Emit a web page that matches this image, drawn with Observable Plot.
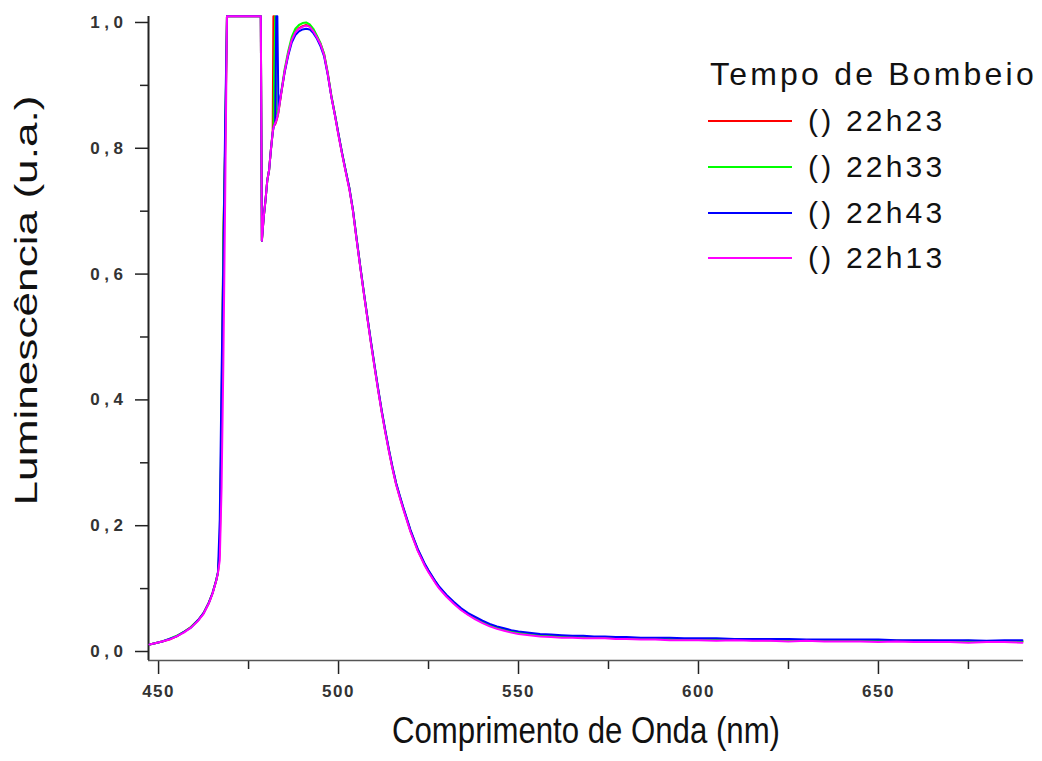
<!DOCTYPE html>
<html>
<head>
<meta charset="utf-8">
<script src="https://cdn.jsdelivr.net/npm/d3@7"></script>
<script src="https://cdn.jsdelivr.net/npm/@observablehq/plot@0.6"></script>
<style>
  body { margin: 0; background: #fff; }
  #wrap { position: relative; width: 1042px; height: 761px; font-family: "Liberation Sans", Arial, sans-serif; }
  #legend { position: absolute; left: 0; top: 0; }
  .lt { position: absolute; left: 710px; top: 56px; font-size: 32px; letter-spacing: 3.2px; color: #111; white-space: nowrap; }
  .row { position: absolute; left: 708px; height: 40px; white-space: nowrap; }
  .sw { position: absolute; left: 0; width: 84px; height: 2px; top: 19px; }
  .lab { position: absolute; left: 100px; top: 0; font-size: 30px; line-height: 40px; color: #111; letter-spacing: 3.2px; }
  .ytick text { letter-spacing: 4.5px; }
  .xtick text { letter-spacing: 1.5px; }
</style>
</head>
<body>
<div id="wrap"></div>
<script>
// ---- data ----
const seriesNames = ["() 22h23", "() 22h33", "() 22h43", "() 22h13"];
const seriesColors = ["#ff0000", "#00ff00", "#0000ff", "#ff00ff"];

const wavelength = [
  447.5, 449, 451, 453, 455, 457, 459, 461, 462.5, 464,
  465, 466, 466.5, 467, 467.5, 468, 468.5, 469, 470, 472,
  474, 476, 478, 478.4, 478.7, 479.2, 479.7, 480.2, 480.7, 481.2,
  481.7, 481.9, 482.1, 482.4, 482.7, 483.0, 483.3, 484, 485, 486,
  487, 488, 489, 490, 491, 492, 493, 494, 495, 496,
  497, 498, 499, 500, 501, 502, 503, 504, 505, 506,
  507, 508, 509, 510, 511, 512, 513, 514, 515, 516,
  517, 518, 519, 520, 521, 522, 523, 524, 525, 526,
  527, 528, 530, 532, 534, 536, 538, 540, 542, 544,
  546, 548, 550, 553, 556, 559, 562, 565, 568, 571,
  574, 577, 580, 584, 588, 592, 596, 600, 605, 610,
  615, 620, 625, 630, 635, 640, 645, 650, 655, 660,
  665, 670, 675, 680, 685, 690
];

const lum2223 = [
  0.011, 0.013, 0.016, 0.019, 0.024, 0.031, 0.039, 0.050, 0.061, 0.078,
  0.093, 0.113, 0.125, 0.160, 0.36, 0.66, 0.80, 1.01, 1.01, 1.01,
  1.01, 1.01, 1.01, 1.01, 0.653, 0.690, 0.717, 0.749, 0.765, 0.797,
  0.826, 1.01, 1.01, 0.838, 0.843, 0.849, 0.857, 0.884, 0.921, 0.950,
  0.973, 0.985, 0.991, 0.994, 0.996, 0.994, 0.987, 0.977, 0.966, 0.949,
  0.919, 0.883, 0.853, 0.821, 0.791, 0.763, 0.736, 0.701, 0.656, 0.613,
  0.571, 0.531, 0.491, 0.453, 0.416, 0.381, 0.349, 0.319, 0.291, 0.266,
  0.246, 0.227, 0.209, 0.191, 0.176, 0.161, 0.149, 0.137, 0.127, 0.118,
  0.109, 0.101, 0.088, 0.077, 0.067, 0.059, 0.053, 0.047, 0.042, 0.038,
  0.035, 0.032, 0.030, 0.028, 0.026, 0.025, 0.024, 0.023, 0.023, 0.022,
  0.022, 0.021, 0.021, 0.020, 0.020, 0.020, 0.019, 0.019, 0.019, 0.019,
  0.018, 0.018, 0.018, 0.018, 0.017, 0.017, 0.017, 0.017, 0.017, 0.016,
  0.016, 0.016, 0.016, 0.016, 0.016, 0.016
];

const lum2233 = [
  0.011, 0.013, 0.016, 0.020, 0.025, 0.031, 0.039, 0.050, 0.061, 0.078,
  0.093, 0.113, 0.126, 0.170, 0.38, 0.66, 0.81, 1.01, 1.01, 1.01,
  1.01, 1.01, 1.01, 1.01, 0.653, 0.690, 0.717, 0.749, 0.765, 0.797,
  0.825, 0.832, 0.920, 1.01, 0.860, 0.851, 0.859, 0.887, 0.925, 0.954,
  0.977, 0.990, 0.996, 0.999, 1.000, 0.997, 0.990, 0.979, 0.967, 0.950,
  0.920, 0.884, 0.854, 0.822, 0.792, 0.764, 0.737, 0.702, 0.657, 0.614,
  0.572, 0.532, 0.492, 0.454, 0.417, 0.382, 0.350, 0.320, 0.292, 0.267,
  0.247, 0.228, 0.210, 0.192, 0.177, 0.162, 0.150, 0.138, 0.128, 0.119,
  0.110, 0.102, 0.089, 0.078, 0.068, 0.060, 0.053, 0.047, 0.042, 0.038,
  0.035, 0.032, 0.030, 0.028, 0.026, 0.025, 0.024, 0.024, 0.023, 0.022,
  0.022, 0.022, 0.021, 0.021, 0.020, 0.020, 0.020, 0.019, 0.019, 0.019,
  0.019, 0.018, 0.018, 0.018, 0.018, 0.017, 0.018, 0.017, 0.017, 0.017,
  0.017, 0.016, 0.017, 0.016, 0.016, 0.016
];

const lum2243 = [
  0.011, 0.013, 0.016, 0.020, 0.024, 0.031, 0.038, 0.050, 0.061, 0.078,
  0.093, 0.113, 0.126, 0.21, 0.44, 0.62, 0.84, 1.01, 1.01, 1.01,
  1.01, 1.01, 1.01, 1.01, 0.653, 0.690, 0.717, 0.749, 0.765, 0.797,
  0.825, 0.832, 0.836, 0.840, 1.01, 1.01, 0.862, 0.886, 0.920, 0.947,
  0.968, 0.980, 0.986, 0.989, 0.990, 0.989, 0.983, 0.974, 0.962, 0.946,
  0.917, 0.882, 0.853, 0.822, 0.792, 0.764, 0.737, 0.702, 0.657, 0.614,
  0.572, 0.532, 0.493, 0.455, 0.418, 0.383, 0.351, 0.321, 0.293, 0.268,
  0.248, 0.229, 0.211, 0.193, 0.178, 0.163, 0.151, 0.139, 0.129, 0.120,
  0.111, 0.103, 0.090, 0.079, 0.069, 0.061, 0.055, 0.049, 0.044, 0.040,
  0.037, 0.034, 0.032, 0.030, 0.028, 0.027, 0.026, 0.025, 0.025, 0.024,
  0.024, 0.023, 0.023, 0.022, 0.022, 0.022, 0.021, 0.021, 0.021, 0.020,
  0.020, 0.020, 0.020, 0.019, 0.019, 0.019, 0.019, 0.019, 0.018, 0.018,
  0.018, 0.018, 0.018, 0.017, 0.018, 0.018
];

const lum2213 = [
  0.011, 0.013, 0.016, 0.019, 0.024, 0.030, 0.038, 0.049, 0.060, 0.077,
  0.092, 0.112, 0.125, 0.145, 0.26, 0.46, 0.72, 1.01, 1.01, 1.01,
  1.01, 1.01, 1.01, 1.01, 0.653, 0.690, 0.717, 0.749, 0.765, 0.797,
  0.825, 0.832, 0.836, 0.840, 0.844, 0.850, 0.858, 0.885, 0.922, 0.950,
  0.972, 0.984, 0.990, 0.993, 0.995, 0.993, 0.986, 0.976, 0.965, 0.948,
  0.918, 0.882, 0.852, 0.820, 0.790, 0.762, 0.735, 0.700, 0.655, 0.612,
  0.570, 0.530, 0.490, 0.452, 0.415, 0.380, 0.348, 0.318, 0.290, 0.265,
  0.245, 0.226, 0.208, 0.190, 0.175, 0.160, 0.148, 0.136, 0.126, 0.117,
  0.108, 0.100, 0.087, 0.076, 0.066, 0.058, 0.051, 0.045, 0.040, 0.036,
  0.033, 0.030, 0.028, 0.026, 0.024, 0.023, 0.022, 0.022, 0.021, 0.021,
  0.021, 0.020, 0.020, 0.019, 0.019, 0.018, 0.018, 0.018, 0.017, 0.018,
  0.017, 0.017, 0.016, 0.017, 0.016, 0.016, 0.016, 0.015, 0.016, 0.015,
  0.015, 0.015, 0.014, 0.015, 0.015, 0.014
];

const xMajorTicks = [450, 500, 550, 600, 650];
const xMinorTicks = [475, 525, 575, 625, 675];
const yMajorTicks = [0, 0.2, 0.4, 0.6, 0.8, 1.0];
const yMinorTicks = [0.1, 0.3, 0.5, 0.7, 0.9];
const xTitle = "Comprimento de Onda (nm)";
const yTitle = "Luminescência (u.a.)";
const legendTitle = "Tempo de Bombeio";

// ---- build ----
const seriesValues = [lum2223, lum2233, lum2243, lum2213];
const rows = [];
seriesValues.forEach((vals, s) => {
  vals.forEach((v, i) => rows.push({w: wavelength[i], v, series: seriesNames[s]}));
});

const xDomain = [447.2, 690.3];
const yDomain = [-0.0143, 1.0095];
const fmt = d => d.toFixed(1).replace(".", ",");

const chart = Plot.plot({
  width: 1042,
  height: 761,
  marginLeft: 148,
  marginRight: 19,
  marginTop: 16,
  marginBottom: 101,
  x: {domain: xDomain},
  y: {domain: yDomain},
  color: {domain: seriesNames, range: seriesColors},
  style: {fontFamily: "'Liberation Sans', Arial, sans-serif", background: "white", color: "#222"},
  marks: [
    Plot.axisY(yMajorTicks, {tickSize: 13, tickPadding: 8, tickFormat: fmt, fontSize: 17, fontWeight: "bold", fill: "#333", label: null, strokeWidth: 1.5, className: "ytick"}),
    Plot.axisY(yMinorTicks, {tickSize: 8, tickFormat: () => "", label: null, strokeWidth: 1.5}),
    Plot.axisX(xMajorTicks, {tickSize: 14, tickPadding: 10, fontSize: 17, fontWeight: "bold", fill: "#333", label: null, strokeWidth: 1.5, className: "xtick"}),
    Plot.axisX(xMinorTicks, {tickSize: 9, tickFormat: () => "", label: null, strokeWidth: 1.5}),
    Plot.ruleX([xDomain[0]], {stroke: "#222", strokeWidth: 2}),
    Plot.ruleY([yDomain[0]], {stroke: "#555", strokeWidth: 1.5}),
    Plot.line(rows, {x: "w", y: "v", z: "series", stroke: "series", strokeWidth: 2}),
    Plot.text([xTitle], {frameAnchor: "bottom", dy: 82, fontSize: 36, fill: "#111"}),
    Plot.text([yTitle], {frameAnchor: "left", textAnchor: "middle", dx: -121, dy: -38, rotate: -90, fontSize: 31, fill: "#111"})
  ]
});

// condensed / stretched look of the axis titles
d3.select(chart).selectAll("text").each(function() {
  if (this.textContent === xTitle) {
    this.setAttribute("textLength", 388);
    this.setAttribute("lengthAdjust", "spacingAndGlyphs");
  } else if (this.textContent === yTitle) {
    this.setAttribute("textLength", 410);
    this.setAttribute("lengthAdjust", "spacingAndGlyphs");
  }
});

const wrap = document.getElementById("wrap");
wrap.appendChild(chart);

// legend
const leg = document.createElement("div");
leg.id = "legend";
const t = document.createElement("div");
t.className = "lt";
t.textContent = legendTitle;
leg.appendChild(t);
const rowY = [101, 147, 193, 238];
seriesNames.forEach((name, s) => {
  const r = document.createElement("div");
  r.className = "row";
  r.style.top = rowY[s] + "px";
  const sw = document.createElement("div");
  sw.className = "sw";
  sw.style.background = seriesColors[s];
  const lab = document.createElement("div");
  lab.className = "lab";
  lab.textContent = name;
  r.appendChild(sw);
  r.appendChild(lab);
  leg.appendChild(r);
});
wrap.appendChild(leg);
</script>
</body>
</html>
